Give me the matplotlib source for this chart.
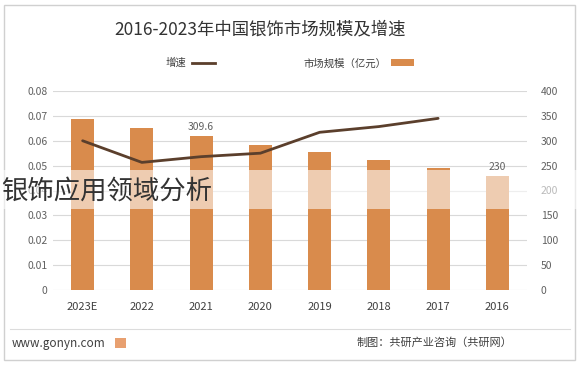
import matplotlib
matplotlib.use('Agg')
import matplotlib.pyplot as plt
import numpy as np
from matplotlib.lines import Line2D
from matplotlib.patches import Patch, Rectangle

plt.rcParams['font.family'] = ['Noto Sans CJK SC', 'DejaVu Sans']

# data (chronological order; the picture shows it right-to-left)
years = ['2016', '2017', '2018', '2019', '2020', '2021', '2022', '2023E']
market_size = [230, 245, 261, 277, 291.5, 309.6, 325, 343]   # 亿元
growth = [np.nan, 0.069, 0.0657, 0.0634, 0.055, 0.0536, 0.0513, 0.06]
labelled = {'2016': '230', '2021': '309.6'}

bar_color = '#d98b4c'
line_color = '#5b3f2c'
text_color = '#606060'

fig = plt.figure(figsize=(5.8, 3.65), dpi=100)

# left axis = growth, right axis = market size (mirrored layout)
ax = fig.add_axes([53 / 580, 1 - 290 / 365, 474 / 580, 199 / 365])
ax2 = ax.twinx()
ax.set_zorder(ax2.get_zorder() + 1)
ax.patch.set_visible(False)

x = np.arange(len(years))
ax2.bar(x, market_size, width=0.39, color=bar_color, zorder=2)
for i, y in enumerate(years):
    if y in labelled:
        ax2.text(x[i], market_size[i] + 8, labelled[y], ha='center', va='bottom',
                 fontsize=7.5, color=text_color)
ax.plot(x, growth, color=line_color, lw=2, solid_capstyle='round')

ax.set_xlim(len(years) - 0.5, -0.5)
ax.set_ylim(0, 0.08)
ax2.set_ylim(0, 400)
ax.set_yticks(np.arange(0, 0.081, 0.01))
ax.set_yticklabels(['0'] + ['%.2f' % v for v in np.arange(0.01, 0.081, 0.01)])
ax2.set_yticks(np.arange(0, 401, 50))
ax.set_xticks(x)
ax.set_xticklabels(years)

ax2.grid(axis='y', color='#d9d9d9', lw=0.8, zorder=0)
ax2.set_axisbelow(True)
for a in (ax, ax2):
    for s in a.spines.values():
        s.set_visible(False)
    a.tick_params(length=0, labelsize=7.5, colors=text_color)
ax.tick_params(axis='x', labelsize=8, pad=9, colors='#404040')
ax.tick_params(axis='y', pad=4)
ax2.tick_params(axis='y', pad=10)

fig.text(0.448, 0.918, '2016-2023年中国银饰市场规模及增速', ha='center', va='center',
         fontsize=12.5, color='#333333')

handles = [Line2D([], [], color=line_color, lw=2),
           Patch(facecolor=bar_color, edgecolor='none')]
fig.legend(handles, ['增速', '市场规模（亿元）'], ncol=2, markerfirst=False,
           loc='center', bbox_to_anchor=(0.5, 0.827), frameon=False,
           fontsize=7.5, handlelength=2.2, columnspacing=8.5, handletextpad=0.5,
           labelcolor='#404040')

# frame and footer
fig.add_artist(Rectangle((4 / 580, 5 / 365), 571 / 580, 355 / 365,
                         transform=fig.transFigure, fill=False,
                         edgecolor='#d0d0d0', lw=1))
fig.add_artist(Line2D([10 / 580, 570 / 580], [1 - 329 / 365] * 2,
                      transform=fig.transFigure, color='#dcdcdc', lw=0.8))
fig.text(12 / 580, 1 - 343 / 365, 'www.gonyn.com', ha='left', va='center',
         fontsize=8.5, color='#404040')
fig.add_artist(Rectangle((115 / 580, 1 - 348 / 365), 11 / 580, 10 / 365,
                         transform=fig.transFigure, color='#e8a070', lw=0))
fig.text(512 / 580, 1 - 343 / 365, '制图：共研产业咨询（共研网）', ha='right', va='center',
         fontsize=8, color='#404040')

# caption overlay band
fig.add_artist(Rectangle((0, 1 - 209 / 365), 1, 39 / 365, transform=fig.transFigure,
                         color='white', alpha=0.57, lw=0, zorder=5))
fig.text(0.002, 1 - 191 / 365, '银饰应用领域分析', ha='left', va='center',
         fontsize=19, color='#333333', zorder=6)

fig.savefig('out.png', dpi=100)
